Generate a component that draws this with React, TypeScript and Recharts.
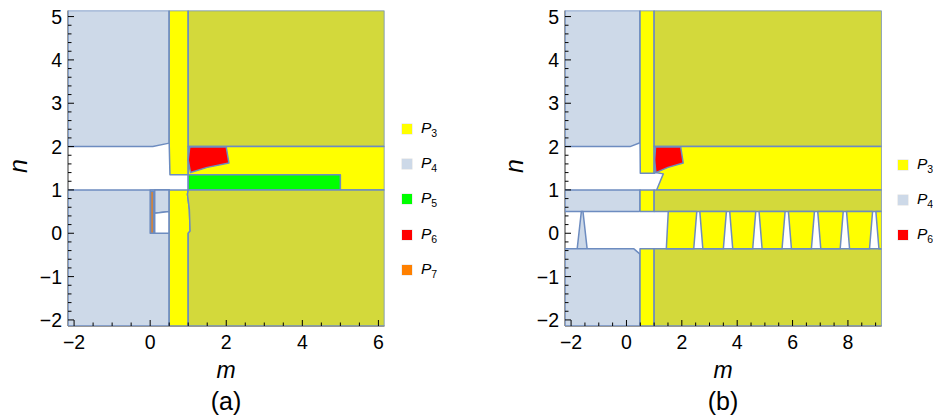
import { ScatterChart, Scatter, XAxis, YAxis } from "recharts"

type Pt = { m: number; n: number }
type Region = { pts: Pt[]; fill: string }

const YELLOW = "#ffff00"
const BLUEGREY = "#cdd9e8"
const OLIVE = "#d3d93b"
const GREEN = "#00ff00"
const RED = "#ff0000"
const ORANGE = "#ff8000"
const WHITE = "#ffffff"
const EDGE = "#6d8cc0"
const FRAME = "#333333"
const FONT = "'Liberation Sans', Arial, sans-serif"

// axis ranges
const Y_DOMAIN: [number, number] = [-2.14, 5.14]
const X_DOMAIN_A: [number, number] = [-2.16, 6.16]
const X_DOMAIN_B: [number, number] = [-2.22, 9.22]

// labelled ticks
const Y_MAJOR = [-2, -1, 0, 1, 2, 3, 4, 5]
const X_MAJOR_A = [-2, 0, 2, 4, 6]
const X_MAJOR_B = [-2, 0, 2, 4, 6, 8]

const steps = (from: number, to: number, step: number) => {
  const out: number[] = []
  for (let v = from; v <= to + 1e-9; v += step) out.push(Math.round(v * 10) / 10)
  return out
}
const Y_TICKS = steps(-2, 5, 0.2)
const X_TICKS_A = steps(-2, 6, 0.5)
const X_TICKS_B = steps(-2, 9, 0.5)

// ---- panel (a) regions, vertices in (m, n) ----
const aP4Upper: Pt[] = [
  { m: -2.16, n: 5.14 }, { m: 0.5, n: 5.14 }, { m: 0.5, n: 2.08 }, { m: 0.07, n: 2 }, { m: -2.16, n: 2 },
]
const aStripUpper: Pt[] = [
  { m: 0.5, n: 5.14 }, { m: 1.0, n: 5.14 }, { m: 1.0, n: 1.35 }, { m: 0.52, n: 1.35 }, { m: 0.5, n: 2.08 },
]
const aOliveUpper: Pt[] = [
  { m: 1.0, n: 5.14 }, { m: 6.16, n: 5.14 }, { m: 6.16, n: 2 }, { m: 1.0, n: 2 },
]
const aBand: Pt[] = [
  { m: 1.0, n: 2 }, { m: 6.16, n: 2 }, { m: 6.16, n: 1 }, { m: 1.0, n: 1 },
]
const aRed: Pt[] = [
  { m: 1.04, n: 1.99 }, { m: 2.0, n: 1.99 }, { m: 2.07, n: 1.62 }, { m: 1.5, n: 1.52 },
  { m: 1.06, n: 1.4 }, { m: 1.0, n: 1.69 },
]
const aGreen: Pt[] = [
  { m: 1.0, n: 1.35 }, { m: 5.0, n: 1.35 }, { m: 5.0, n: 1.0 }, { m: 1.0, n: 1.0 },
]
const aP4Lower: Pt[] = [
  { m: -2.16, n: 1 }, { m: 0.5, n: 1 }, { m: 0.5, n: -2.14 }, { m: -2.16, n: -2.14 },
]
const aCell: Pt[] = [
  { m: 0, n: 1 }, { m: 0.5, n: 1 }, { m: 0.5, n: 0 }, { m: 0, n: 0 },
]
const aCellTop: Pt[] = [
  { m: 0.12, n: 1 }, { m: 0.5, n: 1 }, { m: 0.5, n: 0.5 }, { m: 0.12, n: 0.46 },
]
const aWhiteBox: Pt[] = [
  { m: 0.12, n: 0.46 }, { m: 0.5, n: 0.5 }, { m: 0.5, n: 0 }, { m: 0.12, n: 0 },
]
const aOrange: Pt[] = [
  { m: 0.015, n: 0.97 }, { m: 0.085, n: 0.97 }, { m: 0.085, n: 0 }, { m: 0.015, n: 0 },
]
const aStripLower: Pt[] = [
  { m: 0.5, n: 1 }, { m: 1.0, n: 1 }, { m: 0.98, n: 0.9 }, { m: 1.03, n: 0.55 },
  { m: 1.05, n: 0.05 }, { m: 1.0, n: 0 }, { m: 1.0, n: -2.14 }, { m: 0.5, n: -2.14 },
]
const aOliveLower: Pt[] = [
  { m: 1.0, n: 1 }, { m: 6.16, n: 1 }, { m: 6.16, n: -2.14 }, { m: 1.0, n: -2.14 },
  { m: 1.0, n: 0 }, { m: 1.05, n: 0.05 }, { m: 1.03, n: 0.55 }, { m: 0.98, n: 0.9 },
]

// ---- panel (b) regions ----
const bP4Upper: Pt[] = [
  { m: -2.22, n: 5.14 }, { m: 0.49, n: 5.14 }, { m: 0.49, n: 2.09 }, { m: 0.13, n: 2 }, { m: -2.22, n: 2 },
]
const bStripUpper: Pt[] = [
  { m: 0.49, n: 5.14 }, { m: 1.0, n: 5.14 }, { m: 1.0, n: 1.385 }, { m: 0.5, n: 1.385 }, { m: 0.49, n: 2.09 },
]
const bOliveUpper: Pt[] = [
  { m: 1.0, n: 5.14 }, { m: 9.22, n: 5.14 }, { m: 9.22, n: 2 }, { m: 1.0, n: 2 },
]
const bBand: Pt[] = [
  { m: 1.0, n: 2 }, { m: 9.22, n: 2 }, { m: 9.22, n: 1 }, { m: 1.09, n: 1 },
  { m: 1.33, n: 1.37 }, { m: 1.04, n: 1.4 }, { m: 1.0, n: 1.385 },
]
const bRed: Pt[] = [
  { m: 1.05, n: 1.99 }, { m: 1.96, n: 1.99 }, { m: 2.05, n: 1.62 }, { m: 1.5, n: 1.52 },
  { m: 1.06, n: 1.4 }, { m: 1.02, n: 1.69 },
]
const bP4Mid: Pt[] = [
  { m: -2.22, n: 1 }, { m: 0.49, n: 1 }, { m: 0.49, n: 0.52 }, { m: 0.45, n: 0.5 }, { m: -2.22, n: 0.5 },
]
const bStripMid: Pt[] = [
  { m: 0.49, n: 1 }, { m: 1.0, n: 1 }, { m: 1.0, n: 0.5 }, { m: 0.49, n: 0.5 },
]
const bOliveMid: Pt[] = [
  { m: 1.0, n: 1 }, { m: 9.22, n: 1 }, { m: 9.22, n: 0.5 }, { m: 1.0, n: 0.5 },
]
const bSpike: Pt[] = [
  { m: -1.63, n: 0.5 }, { m: -1.57, n: 0.5 }, { m: -1.42, n: -0.36 }, { m: -1.78, n: -0.36 },
]
const bP4Lower: Pt[] = [
  { m: -2.22, n: -0.36 }, { m: 0.27, n: -0.36 }, { m: 0.49, n: -0.48 }, { m: 0.49, n: -2.14 }, { m: -2.22, n: -2.14 },
]
const bStripLower: Pt[] = [
  { m: 0.49, n: -0.36 }, { m: 1.0, n: -0.36 }, { m: 1.0, n: -2.14 }, { m: 0.49, n: -2.14 },
]
const bOliveLower: Pt[] = [
  { m: 1.0, n: -0.36 }, { m: 9.22, n: -0.36 }, { m: 9.22, n: -2.14 }, { m: 1.0, n: -2.14 },
]
const bBlocks: Pt[][] = [
  [{ m: 1.51, n: 0.5 }, { m: 2.54, n: 0.5 }, { m: 2.43, n: -0.36 }, { m: 1.44, n: -0.36 }],
  [{ m: 2.65, n: 0.5 }, { m: 3.61, n: 0.5 }, { m: 3.5, n: -0.36 }, { m: 2.76, n: -0.36 }],
  [{ m: 3.73, n: 0.5 }, { m: 4.67, n: 0.5 }, { m: 4.56, n: -0.36 }, { m: 3.84, n: -0.36 }],
  [{ m: 4.79, n: 0.5 }, { m: 5.73, n: 0.5 }, { m: 5.62, n: -0.36 }, { m: 4.9, n: -0.36 }],
  [{ m: 5.85, n: 0.5 }, { m: 6.79, n: 0.5 }, { m: 6.68, n: -0.36 }, { m: 5.96, n: -0.36 }],
  [{ m: 6.91, n: 0.5 }, { m: 7.83, n: 0.5 }, { m: 7.72, n: -0.36 }, { m: 7.02, n: -0.36 }],
  [{ m: 7.95, n: 0.5 }, { m: 8.89, n: 0.5 }, { m: 8.78, n: -0.36 }, { m: 8.06, n: -0.36 }],
  [{ m: 9.01, n: 0.5 }, { m: 9.22, n: 0.5 }, { m: 9.22, n: -0.36 }, { m: 9.12, n: -0.36 }],
]

const regionsA: Region[] = [
  { pts: aP4Upper, fill: BLUEGREY },
  { pts: aStripUpper, fill: YELLOW },
  { pts: aOliveUpper, fill: OLIVE },
  { pts: aBand, fill: YELLOW },
  { pts: aRed, fill: RED },
  { pts: aGreen, fill: GREEN },
  { pts: aP4Lower, fill: BLUEGREY },
  { pts: aCell, fill: BLUEGREY },
  { pts: aCellTop, fill: BLUEGREY },
  { pts: aWhiteBox, fill: WHITE },
  { pts: aOrange, fill: ORANGE },
  { pts: aStripLower, fill: YELLOW },
  { pts: aOliveLower, fill: OLIVE },
]

const regionsB: Region[] = [
  { pts: bP4Upper, fill: BLUEGREY },
  { pts: bStripUpper, fill: YELLOW },
  { pts: bOliveUpper, fill: OLIVE },
  { pts: bBand, fill: YELLOW },
  { pts: bRed, fill: RED },
  { pts: bP4Mid, fill: BLUEGREY },
  { pts: bStripMid, fill: YELLOW },
  { pts: bOliveMid, fill: OLIVE },
  { pts: bSpike, fill: BLUEGREY },
  { pts: bP4Lower, fill: BLUEGREY },
  { pts: bStripLower, fill: YELLOW },
  { pts: bOliveLower, fill: OLIVE },
  ...bBlocks.map((pts) => ({ pts, fill: YELLOW })),
]

const legendA = [
  { sub: "3", color: YELLOW },
  { sub: "4", color: BLUEGREY },
  { sub: "5", color: GREEN },
  { sub: "6", color: RED },
  { sub: "7", color: ORANGE },
]
const legendB = [
  { sub: "3", color: YELLOW },
  { sub: "4", color: BLUEGREY },
  { sub: "6", color: RED },
]

const noDot = () => <g />

const polygonLine = (fill: string) => (props: any) => {
  const pts = (props.points || []) as { x: number; y: number }[]
  const d = pts.map((p, i) => `${i ? "L" : "M"}${p.x},${p.y}`).join("") + "Z"
  return <path d={d} fill={fill} stroke={EDGE} strokeWidth={1.5} strokeLinejoin="round" />
}

const fmt = (v: number) => (v < 0 ? `\u2212${Math.abs(v)}` : `${v}`)

const makeTick = (side: "bottom" | "top" | "left" | "right", majors: number[], labels: boolean) => (props: any) => {
  const { x, y, payload } = props
  const v = payload.value as number
  const major = majors.some((mj) => Math.abs(mj - v) < 1e-6)
  const len = major ? 6 : 3.5
  let line
  if (side === "bottom") line = <line x1={x} y1={y} x2={x} y2={y - len} stroke="#000" />
  else if (side === "top") line = <line x1={x} y1={y} x2={x} y2={y + len} stroke="#000" />
  else if (side === "left") line = <line x1={x} y1={y} x2={x + len} y2={y} stroke="#000" />
  else line = <line x1={x} y1={y} x2={x - len} y2={y} stroke="#000" />
  return (
    <g>
      {line}
      {labels && major && side === "bottom" && (
        <text x={x} y={y + 23} textAnchor="middle" fontSize={19.5} fontFamily={FONT} fill="#000">
          {fmt(v)}
        </text>
      )}
      {labels && major && side === "left" && (
        <text x={x - 6} y={y + 7} textAnchor="end" fontSize={19.5} fontFamily={FONT} fill="#000">
          {fmt(v)}
        </text>
      )}
    </g>
  )
}

interface PanelProps {
  left: number
  width: number
  marginRight: number
  xDomain: [number, number]
  xTicks: number[]
  xMajor: number[]
  regions: Region[]
}

function Panel({ left, width, marginRight, xDomain, xTicks, xMajor, regions }: PanelProps) {
  return (
    <div style={{ position: "absolute", left, top: 0 }}>
      <ScatterChart width={width} height={418} margin={{ top: 10.5, right: marginRight, bottom: 0, left: 0 }}>
        {regions.map((r, i) => (
          <Scatter
            key={i}
            data={r.pts}
            fill={r.fill}
            shape={noDot}
            line={polygonLine(r.fill)}
            lineType="joint"
            isAnimationActive={false}
          />
        ))}
        <XAxis
          type="number"
          dataKey="m"
          domain={xDomain}
          allowDataOverflow
          ticks={xTicks}
          interval={0}
          tickLine={false}
          tickSize={0}
          tickMargin={0}
          height={92}
          axisLine={{ stroke: FRAME }}
          tick={makeTick("bottom", xMajor, true)}
        />
        <XAxis
          xAxisId="top"
          orientation="top"
          type="number"
          dataKey="m"
          domain={xDomain}
          allowDataOverflow
          ticks={xTicks}
          interval={0}
          tickLine={false}
          tickSize={0}
          tickMargin={0}
          height={0}
          axisLine={{ stroke: FRAME }}
          tick={makeTick("top", xMajor, false)}
        />
        <YAxis
          type="number"
          dataKey="n"
          domain={Y_DOMAIN}
          allowDataOverflow
          ticks={Y_TICKS}
          interval={0}
          tickLine={false}
          tickSize={0}
          tickMargin={0}
          width={68}
          axisLine={{ stroke: FRAME }}
          tick={makeTick("left", Y_MAJOR, true)}
        />
        <YAxis
          yAxisId="right"
          orientation="right"
          type="number"
          dataKey="n"
          domain={Y_DOMAIN}
          allowDataOverflow
          ticks={Y_TICKS}
          interval={0}
          tickLine={false}
          tickSize={0}
          tickMargin={0}
          width={0}
          axisLine={{ stroke: FRAME }}
          tick={makeTick("right", Y_MAJOR, false)}
        />
      </ScatterChart>
    </div>
  )
}

function Legend({ items, left, top }: { items: { sub: string; color: string }[]; left: number; top: number }) {
  return (
    <div style={{ position: "absolute", left, top, fontFamily: FONT }}>
      {items.map((it, i) => (
        <div key={i} style={{ position: "absolute", top: i * 35.2, left: 0, display: "flex", alignItems: "center", height: 14, whiteSpace: "nowrap" }}>
          <div style={{ width: 10, height: 10, background: it.color, boxShadow: "0 0 0 0.5px #e0e0e0" }} />
          <span style={{ marginLeft: 9, fontSize: 15.5, fontStyle: "italic", color: "#000" }}>
            P<sub style={{ fontSize: 10.5, fontStyle: "normal" }}>{it.sub}</sub>
          </span>
        </div>
      ))}
    </div>
  )
}

const centered = (x: number, y: number, extra: any = {}) =>
  ({
    position: "absolute",
    left: x,
    top: y,
    transform: "translate(-50%, -50%)",
    lineHeight: 1,
    fontFamily: FONT,
    color: "#000",
    whiteSpace: "nowrap",
    ...extra,
  }) as any

export default function App() {
  return (
    <div style={{ position: "absolute", left: 0, top: 0, width: 933, height: 418, background: "#fff", overflow: "hidden" }}>
      <Panel left={0} width={390} marginRight={5.5} xDomain={X_DOMAIN_A} xTicks={X_TICKS_A} xMajor={X_MAJOR_A} regions={regionsA} />
      <Panel left={497} width={436} marginRight={51.3} xDomain={X_DOMAIN_B} xTicks={X_TICKS_B} xMajor={X_MAJOR_B} regions={regionsB} />
      <Legend items={legendA} left={402} top={122} />
      <Legend items={legendB} left={898} top={158} />
      <div style={centered(226, 370, { fontSize: 23, fontStyle: "italic" })}>m</div>
      <div style={centered(723, 370, { fontSize: 23, fontStyle: "italic" })}>m</div>
      <div style={centered(226, 401, { fontSize: 25 })}>(a)</div>
      <div style={centered(723, 401, { fontSize: 25 })}>(b)</div>
      <div style={centered(18, 166, { fontSize: 25, fontStyle: "italic", transform: "translate(-50%, -50%) rotate(-90deg)" })}>n</div>
      <div style={centered(514, 166, { fontSize: 25, fontStyle: "italic", transform: "translate(-50%, -50%) rotate(-90deg)" })}>n</div>
    </div>
  )
}
